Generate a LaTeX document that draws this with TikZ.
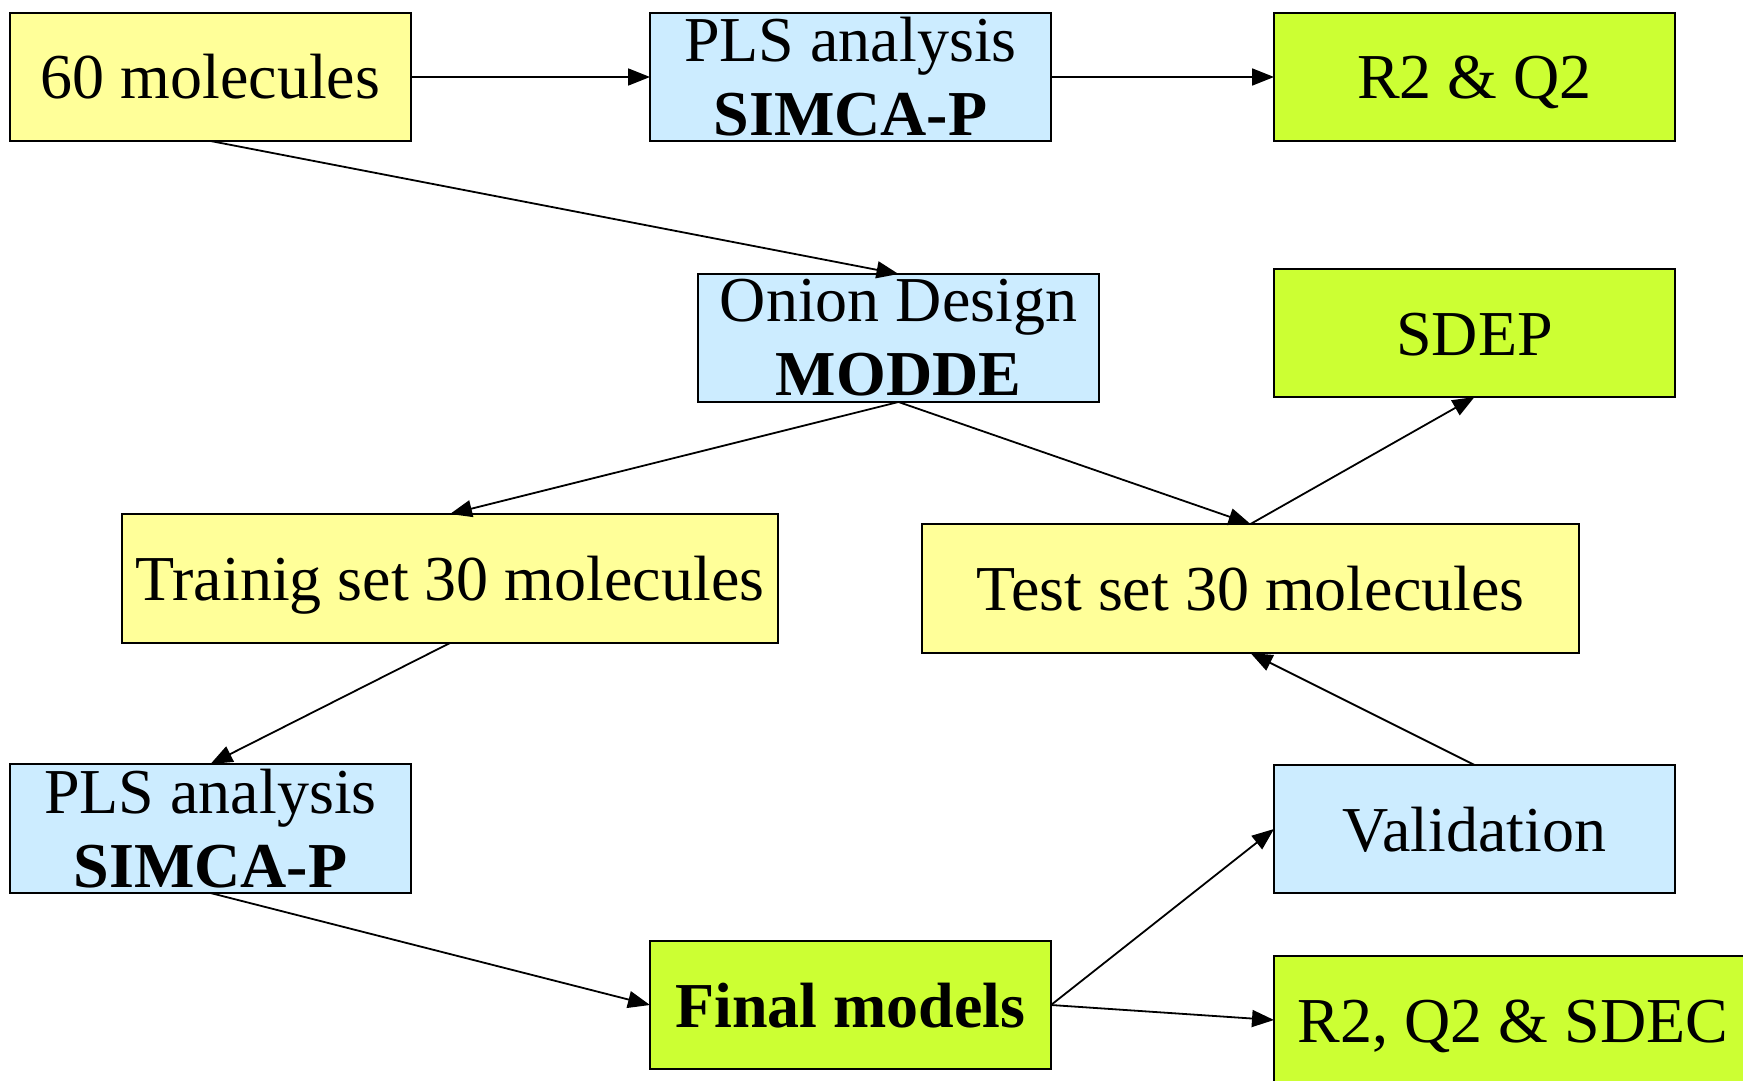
\documentclass[tikz,border=0pt]{standalone}
\usepackage{fontspec}
\setmainfont{Liberation Serif}
\usetikzlibrary{arrows.meta}
\definecolor{boxyellow}{RGB}{255,255,153}
\definecolor{boxblue}{RGB}{204,236,255}
\definecolor{boxgreen}{RGB}{204,255,51}
\tikzset{
  box/.style={draw=black, line width=2pt, inner sep=0pt, outer sep=0pt,
    minimum width=401pt, minimum height=128pt,
    font=\fontsize{64}{74}\selectfont, align=center},
  oneline/.style={box, text height=44pt, text depth=0pt},
  twoline/.style={box},
  ybox/.style={fill=boxyellow},
  bbox/.style={fill=boxblue},
  gbox/.style={fill=boxgreen},
  conn/.style={line width=1.8pt, -{Triangle[length=22pt,width=17pt]}}
}
\begin{document}
\begin{tikzpicture}[x=1pt,y=-1pt]
\useasboundingbox (0,0) rectangle (1743,1081);
\fill[white] (0,0) rectangle (1743,1081);
\clip (0,0) rectangle (1743,1081);
\node[oneline,ybox] (m60) at (210.5,77) {60 molecules};
\node[twoline,bbox] (pls1) at (850.5,77) {PLS analysis\\\textbf{SIMCA-P}};
\node[oneline,gbox] (rq) at (1474.5,77) {R2 \& Q2};
\node[twoline,bbox] (onion) at (898.5,338) {Onion Design\\\textbf{MODDE}};
\node[oneline,gbox] (sdep) at (1474.5,333) {SDEP};
\node[oneline,ybox,minimum width=656pt,minimum height=129pt] (train) at (450,578.5) {Trainig set 30 molecules};
\node[oneline,ybox,minimum width=657pt,minimum height=129pt] (test) at (1250.5,588.5) {Test set 30 molecules};
\node[twoline,bbox,minimum height=129pt] (pls2) at (210.5,828.5) {PLS analysis\\\textbf{SIMCA-P}};
\node[oneline,bbox] (valid) at (1474.5,829) {Validation};
\node[oneline,gbox] (final) at (850.5,1005) {\textbf{Final models}};
\node[oneline,gbox,minimum width=478pt] (sdec) at (1513,1020) {R2, Q2 \& SDEC};
\draw[conn] (m60.east) -- (pls1.west);
\draw[conn] (pls1.east) -- (rq.west);
\draw[conn] (m60.south) -- (onion.north);
\draw[conn] (onion.south) -- (train.north);
\draw[conn] (onion.south) -- (test.north);
\draw[conn] (test.north) -- (sdep.south);
\draw[conn] (train.south) -- (pls2.north);
\draw[conn] (pls2.south) -- (final.west);
\draw[conn] (final.east) -- (valid.west);
\draw[conn] (final.east) -- (sdec.west);
\draw[conn] (valid.north) -- (test.south);
\end{tikzpicture}
\end{document}
